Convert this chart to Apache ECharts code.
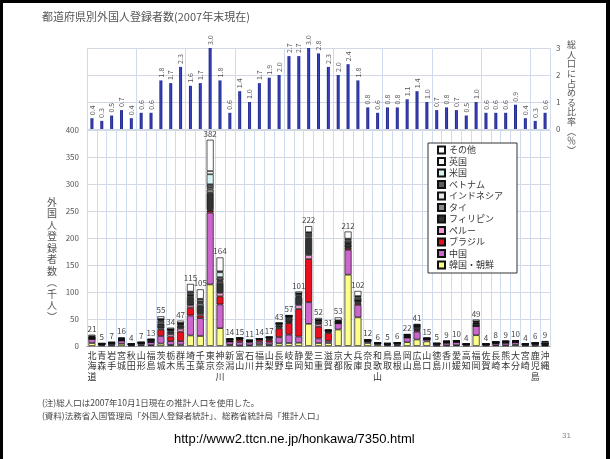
<!DOCTYPE html>
<html>
<head>
<meta charset="utf-8">
<script src="https://cdn.jsdelivr.net/npm/echarts@6/dist/echarts.min.js"></script>
<style>
html,body{margin:0;padding:0;background:#fff}
#chart{width:610px;height:459px}
</style>
</head>
<body>
<div id="chart"></div>
<script>
// 都道府県 (北から順)
const prefectures = ['北海道','青森','岩手','宮城','秋田','山形','福島','茨城','栃木','群馬','埼玉','千葉','東京','神奈川','新潟','富山','石川','福井','山梨','長野','岐阜','静岡','愛知','三重','滋賀','京都','大阪','兵庫','奈良','和歌山','鳥取','島根','岡山','広島','山口','徳島','香川','愛媛','高知','福岡','佐賀','長崎','熊本','大分','宮崎','鹿児島','沖縄'];

// 総人口に占める外国人登録者の比率 (%)
const shareOfPopulation = [0.4,0.3,0.5,0.7,0.4,0.6,0.6,1.8,1.7,2.3,1.6,1.7,3.0,1.8,0.6,1.4,1.0,1.7,1.9,2.0,2.7,2.7,3.0,2.8,2.3,2.0,2.4,1.8,0.8,0.6,0.8,0.8,1.1,1.4,1.0,0.7,0.8,0.7,0.5,1.0,0.6,0.6,0.6,0.9,0.4,0.3,0.6];

// 外国人登録者数 合計 (千人)
const totals = [21,5,7,16,4,7,13,55,34,47,115,105,382,164,14,15,11,14,17,43,57,101,222,52,31,53,212,102,12,6,5,6,22,41,15,5,9,10,4,49,4,8,9,10,4,6,9];

// 国籍別 (千人)
const korea       = [5.5,1.0,1.0,4.0,0.8,1.9,1.6,4.5,2.0,2.5,19.5,18.5,114,33,2.2,0.8,1.3,3.5,2.0,5.0,5.5,6.0,41,5.5,5.5,30.5,132,53,5.5,2.8,1.2,1.0,7.0,12.0,8.5,0.5,1.0,1.5,0.7,20.0,0.7,1.3,1.0,2.2,0.6,0.6,0.6];
const china       = [7.5,2.0,3.2,6.0,1.6,3.0,5.6,14.0,7.0,6.5,37.0,33.0,133,44,6.0,6.5,5.5,4.5,4.5,11.5,15.5,11.5,40,8.5,4.0,11.5,46,23,3.0,1.6,2.5,2.6,8.5,14.5,3.8,3.2,5.0,5.8,2.0,17.0,1.9,4.0,5.0,4.8,2.0,3.2,1.2];
const brazil      = [0.2,0.1,0.1,0.3,0.1,0.1,0.5,11.5,8.5,17.5,14.0,5.0,3.5,15,0.4,4.5,1.5,4.0,4.5,16.0,21.5,51.0,80,21.5,14.5,0.5,3.5,3,0.5,0.1,0.1,1.2,0.5,2.5,0.2,0.1,0.2,0.2,0.1,0.3,0.05,0.1,0.1,0.1,0.05,0.05,0.2];
const peru        = [0.1,0.1,0.1,0.1,0.1,0.1,0.1,2.5,4.5,5.5,4.5,3.0,1.5,6.5,0.2,0.4,0.2,0.3,1.2,1.5,1.0,7.5,7.5,4.5,1.5,0.2,1.0,1.5,0.3,0.1,0.1,0.1,0.2,1.0,0.1,0.1,0.1,0.1,0.05,0.2,0.05,0.05,0.1,0.1,0.05,0.05,0.5];
const philippines = [1.5,0.8,1.4,1.5,0.7,1.0,2.8,9.0,5.0,6.0,15.5,15.0,31.5,18,2.8,1.5,0.9,0.8,2.2,4.5,11.0,14.5,30,6.5,2.5,1.5,6.0,3,0.8,0.6,0.5,0.6,2.0,6.0,1.0,0.6,1.3,1.5,0.6,3.5,0.6,1.0,1.6,1.3,0.7,1.1,2.0];
const thai        = [0.4,0.1,0.1,0.3,0.1,0.2,0.4,3.5,2.0,1.5,2.5,4.5,6.5,3.5,0.4,0.2,0.2,0.1,1.2,2.5,0.5,1.5,2.5,0.7,0.3,0.4,1.5,0.8,0.2,0.1,0.1,0.1,0.4,0.5,0.1,0.1,0.2,0.2,0.1,0.7,0.1,0.1,0.2,0.2,0.1,0.1,0.1];
const indonesia   = [0.5,0.1,0.2,0.4,0.1,0.1,0.3,2.0,0.5,1.0,1.0,1.5,3.0,1.5,0.2,0.3,0.4,0.2,0.2,0.3,0.3,2.5,2.5,0.5,0.2,0.3,0.8,0.6,0.1,0.1,0.1,0.1,0.5,0.7,0.2,0.1,0.4,0.3,0.1,0.6,0.1,0.3,0.3,0.3,0.1,0.2,0.2];
const vietnam     = [0.6,0.2,0.3,0.6,0.1,0.2,0.5,1.5,1.0,1.5,3.5,2.5,6.5,6,0.3,0.3,0.3,0.2,0.2,0.3,0.6,2.0,4,0.7,0.3,0.6,4.0,5,0.4,0.1,0.1,0.1,1.2,1.0,0.2,0.1,0.4,0.2,0.1,1.4,0.2,0.3,0.3,0.3,0.1,0.3,0.1];
const usa         = [1.5,0.3,0.3,0.8,0.2,0.2,0.4,1.0,0.5,0.5,2.5,3.5,18.5,9,0.5,0.2,0.3,0.1,0.3,0.5,0.3,1.0,2.5,0.4,0.3,1.5,3.0,2,0.4,0.2,0.1,0.1,0.5,0.8,0.4,0.1,0.2,0.1,0.1,1.5,0.1,0.6,0.2,0.3,0.1,0.2,2.8];
const uk          = [0.4,0.1,0.1,0.3,0.1,0.1,0.2,0.5,0.2,0.2,0.8,1.0,6.0,2,0.2,0.1,0.1,0.1,0.1,0.2,0.1,0.3,0.8,0.1,0.1,0.6,1.0,0.6,0.2,0.1,0.1,0.05,0.2,0.2,0.1,0.05,0.1,0.05,0.05,0.5,0.05,0.1,0.1,0.1,0.05,0.05,0.2];
const others      = [2.8,0.2,0.2,1.7,0.1,0.1,0.6,5.0,2.8,4.3,14.2,17.5,58,25.5,0.8,0.2,0.3,0.2,0.6,0.7,0.7,3.2,11.2,3.1,1.8,5.4,13.2,9.5,0.6,0.2,0.1,0.05,1.0,1.8,0.4,0.05,0.1,0.05,0.1,3.3,0.15,0.15,0.1,0.3,0.15,0.15,1.1];

// 積み上げ順 (下から)
const nationalities = [
  {name:'韓国・朝鮮', data:korea,       color:'#ffff88'},
  {name:'中国',       data:china,       color:'#cc66cc'},
  {name:'ブラジル',   data:brazil,      color:'#e8101e'},
  {name:'ペルー',     data:peru,        color:'#f49ad6'},
  {name:'フィリピン', data:philippines, color:'#333333'},
  {name:'タイ',       data:thai,        color:'#8c8c8c'},
  {name:'インドネシア', data:indonesia, color:'#e8e8e8'},
  {name:'ベトナム',   data:vietnam,     color:'#5c5c5c'},
  {name:'米国',       data:usa,         color:'#d6f2f2'},
  {name:'英国',       data:uk,          color:'#f6f6f6'},
  {name:'その他',     data:others,      color:'#ffffff'}
];

const JP = '"Noto Sans CJK JP", "Noto Sans", sans-serif';
const gridLineColor = '#cfdcef';

const chart = echarts.init(document.getElementById('chart'), null, {renderer:'canvas'});

const stackSeries = nationalities.map((n, i) => ({
  name: n.name,
  type: 'bar',
  xAxisIndex: 1,
  yAxisIndex: 1,
  stack: 'total',
  barWidth: 7,
  data: n.data,
  itemStyle: {color: n.color, borderColor: '#111', borderWidth: 0.7},
  emphasis: {disabled: true},
  label: i === nationalities.length - 1 ? {
    show: true,
    position: 'top',
    distance: 2,
    fontSize: 8,
    fontFamily: JP,
    color: '#444',
    formatter: p => totals[p.dataIndex]
  } : {show: false}
}));

chart.setOption({
  animation: false,
  textStyle: {fontFamily: JP},
  grid: [
    {left: 87, right: 60, top: 48, height: 81},
    {left: 87, right: 60, top: 130, height: 216}
  ],
  xAxis: [
    {
      gridIndex: 0, type: 'category', data: prefectures,
      axisLine: {show: false}, axisTick: {show: false}, axisLabel: {show: false},
      splitLine: {show: true, lineStyle: {color: gridLineColor, width: 1}}
    },
    {
      gridIndex: 1, type: 'category', data: prefectures,
      axisLine: {show: true, lineStyle: {color: '#999'}},
      axisTick: {show: false},
      splitLine: {show: true, lineStyle: {color: gridLineColor, width: 1}},
      axisLabel: {
        interval: 0, margin: 4, fontSize: 9, lineHeight: 10.5, color: '#333',
        fontFamily: JP,
        formatter: v => v.split('').join('\n')
      }
    }
  ],
  yAxis: [
    {
      gridIndex: 0, type: 'value', position: 'right', min: 0, max: 3, interval: 1,
      axisLine: {show: false}, axisTick: {show: false},
      axisLabel: {fontSize: 8, color: '#555', margin: 6},
      splitLine: {show: true, lineStyle: {color: '#d3d9e3'}}
    },
    {
      gridIndex: 1, type: 'value', min: 0, max: 400, interval: 50,
      axisLine: {show: false}, axisTick: {show: false},
      axisLabel: {fontSize: 8, color: '#555', margin: 8},
      splitLine: {show: true, lineStyle: {color: '#d3d9e3'}}
    }
  ],
  legend: {
    orient: 'vertical',
    left: 428, top: 143,
    padding: [2, 14, 3, 9],
    borderColor: '#333', borderWidth: 1,
    backgroundColor: '#fff',
    itemWidth: 7, itemHeight: 7, itemGap: 1.5,
    icon: 'rect',
    textStyle: {fontSize: 9, lineHeight: 10, color: '#333', fontFamily: JP, padding: [0,0,0,-1]},
    data: nationalities.map(n => n.name).reverse()
  },
  series: [
    {
      name: '比率',
      type: 'bar',
      xAxisIndex: 0, yAxisIndex: 0,
      barWidth: 3,
      data: shareOfPopulation,
      itemStyle: {
        color: new echarts.graphic.LinearGradient(0, 0, 1, 0, [
          {offset: 0, color: '#1a2180'},
          {offset: 0.5, color: '#3a44c0'},
          {offset: 1, color: '#1a2180'}
        ])
      },
      emphasis: {disabled: true},
      label: {
        show: true, position: 'top', rotate: 90, align: 'left', verticalAlign: 'middle',
        distance: 3, fontSize: 7, color: '#555',
        formatter: p => p.value.toFixed(1)
      }
    },
    ...stackSeries
  ],
  graphic: [
    // slide frame
    {type: 'rect', shape: {x: 0, y: 0, width: 610, height: 3}, style: {fill: '#000'}, silent: true},
    {type: 'rect', shape: {x: 0, y: 0, width: 3, height: 459}, style: {fill: '#000'}, silent: true},
    {type: 'rect', shape: {x: 606, y: 0, width: 4, height: 459}, style: {fill: '#000'}, silent: true},
    {type: 'text', left: 42, top: 11,
      style: {text: '都道府県別外国人登録者数(2007年末現在)', fontSize: 11, fill: '#555', fontFamily: JP}},
    {type: 'text', left: 47, top: 196,
      style: {text: '外\n国\n人\n登\n録\n者\n数\n︵\n千\n人\n︶', fontSize: 10, lineHeight: 11.5, fill: '#555', fontFamily: JP, align: 'left'}},
    {type: 'text', left: 567, top: 40,
      style: {text: '総\n人\n口\nに\n占\nめ\nる\n比\n率\n︵\n％\n︶', fontSize: 9, lineHeight: 9.6, fill: '#555', fontFamily: JP}},
    {type: 'text', left: 42, top: 399,
      style: {text: '(注)総人口は2007年10月1日現在の推計人口を使用した。', fontSize: 8.5, fill: '#444', fontFamily: JP}},
    {type: 'text', left: 42, top: 412,
      style: {text: '(資料)法務省入国管理局「外国人登録者統計」、総務省統計局「推計人口」', fontSize: 8.5, fill: '#444', fontFamily: JP}},
    {type: 'text', left: 174, top: 433,
      style: {text: 'http://www2.ttcn.ne.jp/honkawa/7350.html', fontSize: 13, fill: '#000', fontFamily: '"Liberation Sans", Arial, sans-serif'}},
    {type: 'text', left: 562, top: 432,
      style: {text: '31', fontSize: 8, fill: '#888', fontFamily: '"Liberation Sans", Arial, sans-serif'}}
  ]
});
</script>
</body>
</html>
